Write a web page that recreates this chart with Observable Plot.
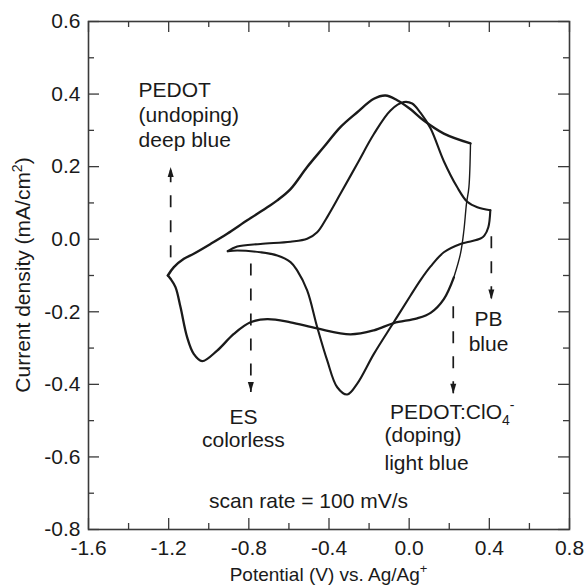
<!DOCTYPE html>
<html><head><meta charset="utf-8">
<script src="https://cdn.jsdelivr.net/npm/d3@7"></script>
<script src="https://cdn.jsdelivr.net/npm/@observablehq/plot@0.6"></script>
<style>
body{margin:0;background:#fff}
svg{font-family:"Liberation Sans",Arial,Helvetica,sans-serif}
</style>
</head><body><div id="chart"></div>
<script>
// ---- tick values ----
const xMajor = [-1.6, -1.2, -0.8, -0.4, 0.0, 0.4, 0.8];
const xMinor = [-1.4, -1.0, -0.6, -0.2, 0.2, 0.6];
const yMajor = [-0.8, -0.6, -0.4, -0.2, 0.0, 0.2, 0.4, 0.6];
const yMinor = [-0.7, -0.5, -0.3, -0.1, 0.1, 0.3, 0.5];

// ---- CV curves: [potential V, current density mA/cm2] ----
// PEDOT loop, anodic (upper) branch
const pedotUpper = [[-1.204,-0.100],[-1.174,-0.077],[-1.124,-0.054],[-1.075,-0.040],[-0.991,-0.013],[-0.908,0.015],[-0.808,0.052],[-0.708,0.088],[-0.658,0.107],[-0.592,0.138],[-0.509,0.199],[-0.426,0.254],[-0.343,0.309],[-0.259,0.350],[-0.176,0.387],[-0.118,0.396],[-0.060,0.383],[0.007,0.358],[0.073,0.327],[0.173,0.291],[0.306,0.264]];
// PEDOT loop, reversal (thin steep part)
const pedotReverse = [[0.306,0.264],[0.298,0.143],[0.286,0.098],[0.273,0.024],[0.256,-0.040],[0.223,-0.105]];
// PEDOT loop, cathodic (lower) branch
const pedotLower = [[0.223,-0.105],[0.173,-0.165],[0.107,-0.203],[0.040,-0.218],[-0.077,-0.231],[-0.176,-0.251],[-0.293,-0.262],[-0.459,-0.246],[-0.592,-0.229],[-0.708,-0.220],[-0.792,-0.229],[-0.875,-0.261],[-0.958,-0.307],[-1.033,-0.336],[-1.075,-0.316],[-1.108,-0.270],[-1.141,-0.187],[-1.166,-0.132],[-1.191,-0.109],[-1.204,-0.100]];
// PB/ES loop, anodic branch
const pbUpper = [[-0.905,-0.033],[-0.858,-0.020],[-0.742,-0.013],[-0.592,-0.007],[-0.509,0.001],[-0.459,0.019],[-0.409,0.061],[-0.343,0.125],[-0.259,0.208],[-0.176,0.290],[-0.093,0.355],[-0.027,0.378],[0.015,0.374],[0.057,0.348],[0.107,0.305],[0.173,0.215],[0.240,0.143],[0.290,0.103],[0.340,0.088],[0.405,0.080]];
// PB/ES loop, cathodic branch
const pbLower = [[0.405,0.080],[0.395,0.033],[0.375,0.010],[0.356,0.002],[0.300,-0.007],[0.256,-0.013],[0.173,-0.036],[0.107,-0.075],[0.060,-0.110],[0.007,-0.155],[-0.077,-0.229],[-0.176,-0.316],[-0.259,-0.398],[-0.309,-0.428],[-0.359,-0.408],[-0.409,-0.334],[-0.459,-0.242],[-0.509,-0.141],[-0.559,-0.086],[-0.592,-0.063],[-0.658,-0.045],[-0.742,-0.036],[-0.858,-0.031],[-0.905,-0.033]];

// ---- annotation arrows (x, from y1 to y2) ----
const arrows = [
  {x: -1.19, y1: -0.050, y2: 0.199},
  {x: -0.79, y1: -0.067, y2: -0.421},
  {x: 0.41, y1: 0.008, y2: -0.166},
  {x: 0.22, y1: -0.185, y2: -0.426}
];
// ---- annotation texts ----
const notesStart = [
  {text: "PEDOT", x: -1.350, y: 0.391},
  {text: "(undoping)", x: -1.350, y: 0.322},
  {text: "deep blue", x: -1.350, y: 0.253},
  {text: "(doping)", x: -0.123, y: -0.560},
  {text: "light blue", x: -0.123, y: -0.637}
];
const notesMiddle = [
  {text: "ES", x: -0.827, y: -0.508},
  {text: "colorless", x: -0.827, y: -0.574},
  {text: "PB", x: 0.396, y: -0.238},
  {text: "blue", x: 0.396, y: -0.307},
  {text: "scan rate = 100 mV/s", x: -0.502, y: -0.742}
];
const doped = {main: "PEDOT:ClO", sub: "4", sup: "-", x: -0.093, y: -0.497};
const xTitle = {main: "Potential (V) vs. Ag/Ag", sup: "+"};
const yTitle = {main: "Current density (mA/cm", sup: "2", end: ")"};

// ---- layout ----
const W = 587, H = 586, mL = 88, mR = 18, mT = 21, mB = 57;
const fw = W - mL - mR, fh = H - mT - mB;
const ink = "#1a1a1a", frameInk = "#3a3a3a", FS = 21;

const arrowHead = {draw(ctx, l) { ctx.moveTo(0, -l); ctx.lineTo(-3, 0); ctx.lineTo(3, 0); ctx.closePath(); }};
const line = (data, w) => Plot.line(data, {x: d => d[0], y: d => d[1], curve: "catmull-rom", stroke: ink, strokeWidth: w, strokeLinejoin: "round", strokeLinecap: "round"});
const tick = (k, vals, len, side) => {
  const o = {stroke: frameInk, strokeWidth: 1.3};
  if (k === "x") return Plot.ruleX(vals, {...o, [side === "bottom" ? "insetTop" : "insetBottom"]: fh - len});
  return Plot.ruleY(vals, {...o, [side === "left" ? "insetRight" : "insetLeft"]: fw - len});
};

const chart = Plot.plot({
  width: W, height: H,
  marginLeft: mL, marginRight: mR, marginTop: mT, marginBottom: mB,
  style: {fontFamily: '"Liberation Sans", Arial, Helvetica, sans-serif', color: ink, background: "#fff"},
  x: {domain: [-1.6, 0.8]},
  y: {domain: [-0.8, 0.6]},
  marks: [
    tick("x", xMajor, 11, "bottom"), tick("x", xMinor, 6, "bottom"),
    tick("x", xMajor, 11, "top"), tick("x", xMinor, 6, "top"),
    tick("y", yMajor, 11, "left"), tick("y", yMinor, 6, "left"),
    tick("y", yMajor, 11, "right"), tick("y", yMinor, 6, "right"),
    Plot.frame({stroke: frameInk, strokeWidth: 1.6}),
    Plot.axisX(xMajor, {tickSize: 0, tickPadding: 11, tickFormat: d => d.toFixed(1), fontSize: FS, label: null, fill: ink}),
    Plot.axisY(yMajor, {tickSize: 0, tickPadding: 8, tickFormat: d => d.toFixed(1), fontSize: FS, label: null, fill: ink}),
    line(pedotUpper, 2.4), line(pedotReverse, 1.4), line(pedotLower, 2.3),
    line(pbUpper, 2.1), line(pbLower, 2.1),
    Plot.link(arrows, {x1: "x", x2: "x", y1: "y1", y2: "y2", stroke: ink, strokeWidth: 1.7, strokeDasharray: "12,13"}),
    Plot.vector(arrows, {x: "x", y: "y2", length: 10, rotate: d => d.y2 > d.y1 ? 0 : 180, anchor: "end", shape: arrowHead, fill: ink, stroke: "none"}),
    Plot.text(notesStart, {x: "x", y: "y", text: "text", textAnchor: "start", lineAnchor: "bottom", fontSize: FS, fill: ink}),
    Plot.text(notesMiddle, {x: "x", y: "y", text: "text", textAnchor: "middle", lineAnchor: "bottom", fontSize: FS, fill: ink})
  ]
});

const svg = d3.select(chart);
const sx = chart.scale("x"), sy = chart.scale("y");
// PEDOT:ClO4- label with sub/superscript
const t = svg.append("text").attr("x", sx.apply(doped.x)).attr("y", sy.apply(doped.y))
  .attr("text-anchor", "start").attr("font-size", FS).attr("fill", ink);
t.append("tspan").text(doped.main);
t.append("tspan").attr("font-size", 14).attr("dy", 6).text(doped.sub);
t.append("tspan").attr("font-size", 14).attr("dx", 0).attr("dy", -15).text(doped.sup);
// x title
const xt = svg.append("text").attr("x", mL + fw / 2).attr("y", H - 5)
  .attr("text-anchor", "middle").attr("font-size", 19).attr("fill", ink);
xt.append("tspan").text(xTitle.main);
xt.append("tspan").attr("font-size", 13).attr("dy", -8).text(xTitle.sup);
// y title
const yt = svg.append("text").attr("transform", `translate(30,${mT + fh / 2}) rotate(-90)`)
  .attr("text-anchor", "middle").attr("font-size", 21).attr("fill", ink);
yt.append("tspan").text(yTitle.main);
yt.append("tspan").attr("font-size", 14).attr("dy", -8).text(yTitle.sup);
yt.append("tspan").attr("dy", 8).text(yTitle.end);

document.getElementById("chart").appendChild(chart);
</script>
</body></html>
